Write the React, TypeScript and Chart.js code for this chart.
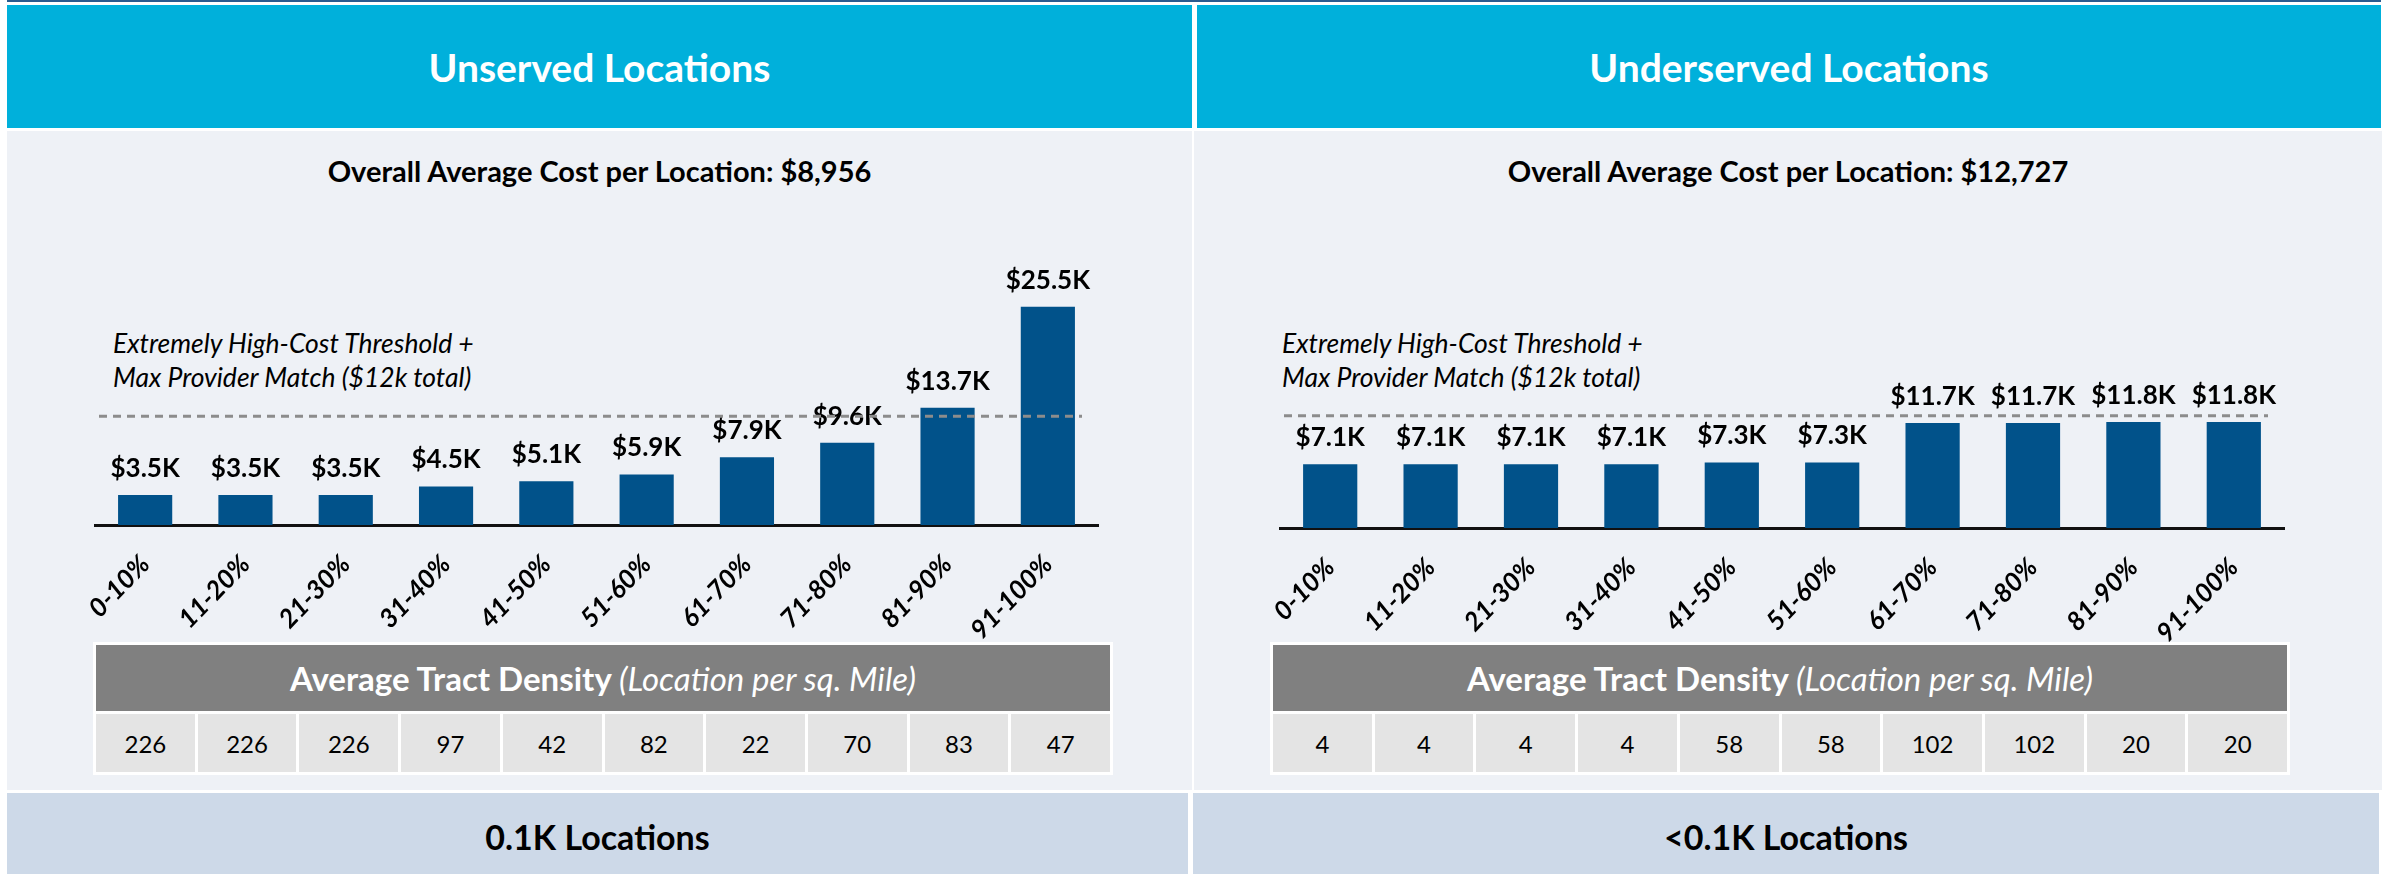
import React, { useEffect, useRef } from 'react';
import { Chart, registerables } from 'chart.js';

Chart.register(...registerables);

// ---------- data ----------
const categories = ['0-10%', '11-20%', '21-30%', '31-40%', '41-50%', '51-60%', '61-70%', '71-80%', '81-90%', '91-100%'];
const unservedCost = [3.5, 3.5, 3.5, 4.5, 5.1, 5.9, 7.9, 9.6, 13.7, 25.5];
const underservedCost = [7.1, 7.1, 7.1, 7.1, 7.3, 7.3, 11.7, 11.7, 11.8, 11.8];
const unservedDensity = [226, 226, 226, 97, 42, 82, 22, 70, 83, 47];
const underservedDensity = [4, 4, 4, 4, 58, 58, 102, 102, 20, 20];
const unservedThresholdLine = 12.7;
const underservedThresholdLine = 12.5;
const panelTitles = ['Unserved Locations', 'Underserved Locations'];
const averageCosts = ['$8,956', '$12,727'];
const locationCounts = ['0.1K Locations', '<0.1K Locations'];
const annotationLines = ['Extremely High-Cost Threshold +', 'Max Provider Match ($12k total)'];

const FONT = 'Lato, "Open Sans", "DejaVu Sans", sans-serif';
const BAR_COLOR = '#01528A';
const AXIS_HEIGHT = 160;

const overlayPlugin = {
  id: 'overlay',
  afterDatasetsDraw(chart: any, _args: any, opts: any) {
    const ctx = chart.ctx;
    const meta = chart.getDatasetMeta(0);
    const data = chart.data.datasets[0].data as number[];
    ctx.save();
    ctx.font = `bold 26px ${FONT}`;
    ctx.fillStyle = '#000';
    ctx.textAlign = 'center';
    ctx.textBaseline = 'alphabetic';
    meta.data.forEach((bar: any, i: number) => {
      ctx.fillText('$' + data[i].toFixed(1) + 'K', bar.x, bar.y - 18);
    });
    const area = chart.chartArea;
    const y = chart.scales.y.getPixelForValue(opts.threshold);
    ctx.setLineDash([8, 6]);
    ctx.lineWidth = 3;
    ctx.strokeStyle = '#8C8C8C';
    ctx.beginPath();
    ctx.moveTo(area.left + 4, y);
    ctx.lineTo(area.right - 16, y);
    ctx.stroke();
    ctx.restore();
  },
};

type BarChartProps = {
  values: number[];
  threshold: number;
  yMax: number;
  left: number;
  top: number;
  width: number;
  height: number;
  padLeft: number;
  padRight: number;
  padTop: number;
};

function BarChart(p: BarChartProps) {
  const ref = useRef<HTMLCanvasElement | null>(null);
  useEffect(() => {
    if (!ref.current) return;
    const chart = new Chart(ref.current, {
      type: 'bar',
      data: {
        labels: categories,
        datasets: [
          {
            data: p.values,
            backgroundColor: BAR_COLOR,
            borderWidth: 0,
            categoryPercentage: 1,
            barPercentage: 0.54,
          },
        ],
      },
      options: {
        responsive: false,
        animation: false,
        layout: { padding: { left: p.padLeft, right: p.padRight, top: p.padTop, bottom: 0 } },
        plugins: {
          legend: { display: false },
          tooltip: { enabled: false },
          overlay: { threshold: p.threshold },
        } as any,
        scales: {
          x: {
            grid: { display: false, drawTicks: false },
            border: { display: true, color: '#111', width: 3 },
            ticks: {
              font: { family: FONT, size: 26, weight: 'bold', style: 'italic' },
              color: '#000',
              minRotation: 46,
              maxRotation: 46,
              autoSkip: false,
              padding: 24,
            },
            afterFit: (s: any) => {
              s.height = AXIS_HEIGHT;
            },
          },
          y: { display: false, min: 0, max: p.yMax },
        },
      },
      plugins: [overlayPlugin],
    });
    return () => chart.destroy();
  }, []);
  return (
    <canvas
      ref={ref}
      width={p.width}
      height={p.height}
      style={{ position: 'absolute', left: p.left, top: p.top, width: p.width, height: p.height }}
    />
  );
}

function DensityTable({ left, values }: { left: number; values: number[] }) {
  return (
    <div
      style={{
        position: 'absolute',
        left,
        top: 642,
        width: 1020,
        height: 133,
        background: '#fff',
        padding: 3,
        boxSizing: 'border-box',
      }}
    >
      <div
        style={{
          height: 66,
          background: '#808080',
          color: '#fff',
          display: 'flex',
          alignItems: 'center',
          justifyContent: 'center',
          fontSize: 33,
          whiteSpace: 'pre',
        }}
      >
        <span style={{ fontWeight: 'bold' }}>Average Tract Density </span>
        <span style={{ fontStyle: 'italic' }}>(Location per sq. Mile)</span>
      </div>
      <div style={{ display: 'flex', gap: 3, marginTop: 3, height: 58 }}>
        {values.map((v, i) => (
          <div
            key={i}
            style={{
              flex: 1,
              background: '#E4E4E4',
              display: 'flex',
              alignItems: 'center',
              justifyContent: 'center',
              fontSize: 24,
              color: '#000',
            }}
          >
            {v}
          </div>
        ))}
      </div>
    </div>
  );
}

export default function App() {
  const abs = (l: number, t: number, w: number, h: number, extra: any = {}) => ({
    position: 'absolute' as const,
    left: l,
    top: t,
    width: w,
    height: h,
    ...extra,
  });
  const centered = {
    display: 'flex',
    alignItems: 'center',
    justifyContent: 'center',
  };
  return (
    <div style={{ position: 'absolute', left: 0, top: 0, width: 2384, height: 874, background: '#fff', overflow: 'hidden', fontFamily: FONT }}>
      {/* top rule */}
      <div style={abs(7, 0, 2374, 2, { background: '#2A5B8F' })} />
      {/* headers */}
      <div style={abs(7, 5, 1185, 123, { background: '#00B0DB', color: '#fff', fontWeight: 'bold', fontSize: 39, ...centered })}>
        {panelTitles[0]}
      </div>
      <div style={abs(1197, 5, 1184, 123, { background: '#00B0DB', color: '#fff', fontWeight: 'bold', fontSize: 39, ...centered })}>
        {panelTitles[1]}
      </div>
      {/* panels */}
      <div style={abs(7, 131, 1185, 659, { background: '#EEF1F6' })} />
      <div style={abs(1194, 131, 1188, 659, { background: '#EEF1F6' })} />
      {/* titles */}
      <div style={abs(7, 150, 1185, 40, { fontWeight: 'bold', fontSize: 29, color: '#000', ...centered })}>
        Overall Average Cost per Location: {averageCosts[0]}
      </div>
      <div style={abs(1194, 150, 1188, 40, { fontWeight: 'bold', fontSize: 29, color: '#000', ...centered })}>
        Overall Average Cost per Location: {averageCosts[1]}
      </div>
      {/* annotations */}
      {[113, 1282].map((x) => (
        <div key={x} style={abs(x, 326, 520, 68, { fontStyle: 'italic', fontSize: 26.5, lineHeight: '34px', color: '#000', whiteSpace: 'pre' })}>
          {annotationLines[0]}
          {'\n'}
          {annotationLines[1]}
        </div>
      ))}
      {/* charts */}
      <BarChart values={unservedCost} threshold={unservedThresholdLine} yMax={32} left={7} top={200} width={1185} height={325 + AXIS_HEIGHT} padLeft={88} padRight={94} padTop={51} />
      <BarChart values={underservedCost} threshold={underservedThresholdLine} yMax={30.5} left={1194} top={203} width={1188} height={325 + AXIS_HEIGHT} padLeft={86} padRight={98} padTop={51} />
      {/* tables */}
      <DensityTable left={93} values={unservedDensity} />
      <DensityTable left={1270} values={underservedDensity} />
      {/* bottom bands */}
      <div style={abs(7, 793, 1181, 81, { background: '#CDD9E8', fontWeight: 'bold', fontSize: 34, color: '#000', ...centered, paddingTop: 6, boxSizing: 'border-box' })}>
        {locationCounts[0]}
      </div>
      <div style={abs(1193, 793, 1186, 81, { background: '#CDD9E8', fontWeight: 'bold', fontSize: 34, color: '#000', ...centered, paddingTop: 6, boxSizing: 'border-box' })}>
        {locationCounts[1]}
      </div>
    </div>
  );
}
